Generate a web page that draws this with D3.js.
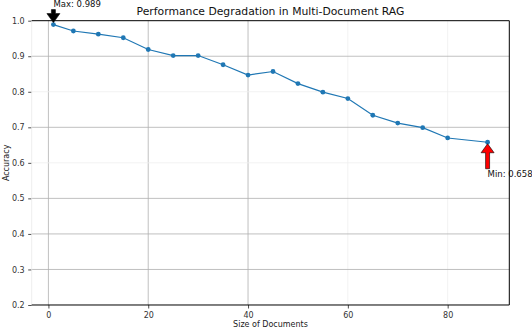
<!DOCTYPE html>
<html>
<head>
<meta charset="utf-8">
<script src="https://cdn.jsdelivr.net/npm/d3@7"></script>
<style>
	body { margin: 0; background: #fff; }
	svg { display: block; font-family: 'DejaVu Sans', sans-serif; }
</style>
</head>
<body>
<svg id="chart" width="532" height="330"></svg>
<script>
'use strict';

// document counts and accuracy
var aDocSizes = [1, 5, 10, 15, 20, 25, 30, 35, 40, 45, 50, 55, 60, 65, 70, 75, 80, 88];
var aAccuracy = [0.989, 0.971, 0.962, 0.952, 0.919, 0.902, 0.902, 0.876, 0.847, 0.857,
	0.823, 0.799, 0.781, 0.734, 0.712, 0.699, 0.670, 0.658];
var aXTicks = [0, 20, 40, 60, 80];
var aYTicks = [0.2, 0.3, 0.4, 0.5, 0.6, 0.7, 0.8, 0.9, 1.0];

var strTitle = 'Performance Degradation in Multi-Document RAG';
var strXLabel = 'Size of Documents';
var strYLabel = 'Accuracy';

var sSvg = d3.select('#chart');
var rMargin = {top: 20.7, right: 22.7, bottom: 25, left: 31.7};
var nWidth = 532 - rMargin.left - rMargin.right;
var nHeight = 330 - rMargin.top - rMargin.bottom;

var nMinX = d3.min(aDocSizes), nMaxX = d3.max(aDocSizes);
var nPad = (nMaxX - nMinX) * 0.05;

var scaleX = d3.scaleLinear().domain([nMinX - nPad, nMaxX + nPad]).range([0, nWidth]);
var scaleY = d3.scaleLinear().domain([0.2, 1.0]).range([nHeight, 0]);

var sChart = sSvg.append('g')
	.attr('transform', 'translate(' + rMargin.left + ',' + rMargin.top + ')');

// grid: some lines come out faint in the reference
var aFaintX = [60, 80];
var aFaintY = [0.6, 0.8];
function GridColor(aFaint, v)
{
	return aFaint.some(function(f) { return Math.abs(f - v) < 1e-6; }) ? '#efefef' : '#b0b0b0';
}

sChart.append('g').selectAll('line')
	.data(aXTicks)
	.enter().append('line')
		.attr('x1', function(d) { return scaleX(d); })
		.attr('x2', function(d) { return scaleX(d); })
		.attr('y1', 0)
		.attr('y2', nHeight)
		.attr('stroke', function(d) { return GridColor(aFaintX, d); })
		.attr('stroke-width', 0.8);

sChart.append('g').selectAll('line')
	.data(aYTicks.filter(function(d) { return d > 0.25 && d < 0.95; }))
	.enter().append('line')
		.attr('x1', 0)
		.attr('x2', nWidth)
		.attr('y1', function(d) { return scaleY(d); })
		.attr('y2', function(d) { return scaleY(d); })
		.attr('stroke', function(d) { return GridColor(aFaintY, d); })
		.attr('stroke-width', 0.8);

// axes
var axisX = d3.axisBottom(scaleX).tickValues(aXTicks).tickSize(3.5).tickPadding(3.5)
	.tickFormat(d3.format('d'));
var axisY = d3.axisLeft(scaleY).tickValues(aYTicks).tickSize(3.5).tickPadding(3.5)
	.tickFormat(d3.format('.1f'));

var sAxisX = sChart.append('g')
	.attr('transform', 'translate(0,' + nHeight + ')')
	.call(axisX);
var sAxisY = sChart.append('g').call(axisY);

[sAxisX, sAxisY].forEach(function(s)
{
	s.select('.domain').remove();
	s.selectAll('.tick line').attr('stroke', '#222').attr('stroke-width', 0.8);
	s.selectAll('.tick text').attr('fill', '#333').style('font-size', '8px')
		.style('font-family', 'DejaVu Sans, sans-serif');
});

// spines (left one is faint in the reference)
sChart.append('line').attr('x1', 0).attr('x2', 0).attr('y1', 0).attr('y2', nHeight)
	.attr('stroke', '#e8e8e8').attr('stroke-width', 0.8);
sChart.append('line').attr('x1', 0).attr('x2', nWidth).attr('y1', nHeight).attr('y2', nHeight)
	.attr('stroke', '#000').attr('stroke-width', 1);
sChart.append('line').attr('x1', 0).attr('x2', nWidth).attr('y1', 0).attr('y2', 0)
	.attr('stroke', '#000').attr('stroke-width', 1);

// series
var aPoints = aDocSizes.map(function(x, i) { return {x: x, y: aAccuracy[i]}; });
var fLine = d3.line()
	.x(function(d) { return scaleX(d.x); })
	.y(function(d) { return scaleY(d.y); });

sChart.append('path')
	.datum(aPoints)
	.attr('d', fLine)
	.attr('fill', 'none')
	.attr('stroke', '#1f77b4')
	.attr('stroke-width', 1.2);

sChart.append('g').selectAll('circle')
	.data(aPoints)
	.enter().append('circle')
		.attr('cx', function(d) { return scaleX(d.x); })
		.attr('cy', function(d) { return scaleY(d.y); })
		.attr('r', 2.4)
		.attr('fill', '#1f77b4');

// annotations
var iMax = d3.maxIndex(aAccuracy);
var iMin = d3.minIndex(aAccuracy);
var pMax = aPoints[iMax], pMin = aPoints[iMin];

function Arrow(nX, nTipY, nTailY, strFill)
{
	// vertical block arrow, tip at nTipY
	var nDir = nTailY > nTipY ? 1 : -1;
	var nHead = 9, nHalfHead = 6.5, nHalfShaft = 2;
	var yBase = nTipY + nDir * nHead;
	var aPts = [
		[nX, nTipY],
		[nX + nHalfHead, yBase],
		[nX + nHalfShaft, yBase],
		[nX + nHalfShaft, nTailY],
		[nX - nHalfShaft, nTailY],
		[nX - nHalfShaft, yBase],
		[nX - nHalfHead, yBase]
	];
	sChart.append('polygon')
		.attr('points', aPts.map(function(p) { return p.join(','); }).join(' '))
		.attr('fill', strFill)
		.attr('stroke', '#000')
		.attr('stroke-width', 0.6);
}

var xMaxPx = scaleX(pMax.x), yMaxPx = scaleY(pMax.y);
Arrow(xMaxPx, yMaxPx - 2, yMaxPx - 15, '#000');
sChart.append('text')
	.attr('x', xMaxPx)
	.attr('y', yMaxPx - 17.6)
	.style('font-size', '8.5px')
	.attr('fill', '#111')
	.text('Max: ' + d3.format('.3f')(pMax.y));

var xMinPx = scaleX(pMin.x), yMinPx = scaleY(pMin.y);
Arrow(xMinPx, yMinPx + 1.5, yMinPx + 26.5, '#f00');
sChart.append('text')
	.attr('x', xMinPx)
	.attr('y', yMinPx + 35)
	.style('font-size', '8.5px')
	.attr('fill', '#111')
	.text('Min: ' + d3.format('.3f')(pMin.y));

// right spine drawn over the min label like the reference
sChart.append('line').attr('x1', nWidth).attr('x2', nWidth).attr('y1', 0).attr('y2', nHeight)
	.attr('stroke', '#000').attr('stroke-width', 1);

// titles
sSvg.append('text')
	.attr('x', rMargin.left + nWidth / 2)
	.attr('y', 15)
	.attr('text-anchor', 'middle')
	.style('font-size', '10.8px')
	.attr('fill', '#111')
	.text(strTitle);

sSvg.append('text')
	.attr('x', rMargin.left + nWidth / 2)
	.attr('y', 327)
	.attr('text-anchor', 'middle')
	.style('font-size', '8px')
	.attr('fill', '#222')
	.text(strXLabel);

sSvg.append('text')
	.attr('transform', 'translate(9,' + (rMargin.top + nHeight / 2) + ') rotate(-90)')
	.attr('text-anchor', 'middle')
	.style('font-size', '8px')
	.attr('fill', '#222')
	.text(strYLabel);
</script>
</body>
</html>
